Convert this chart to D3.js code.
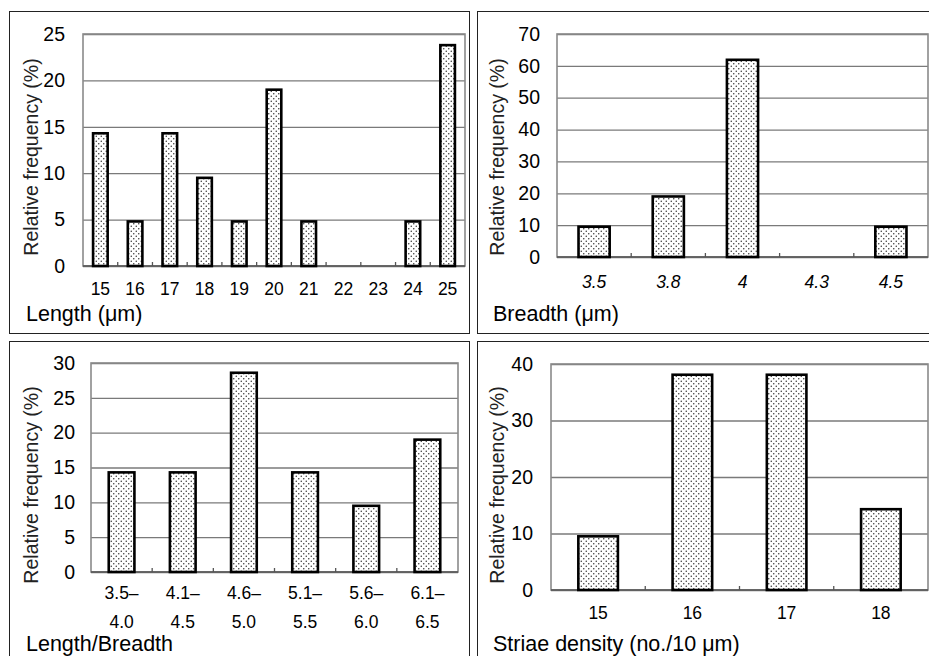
<!DOCTYPE html>
<html>
<head>
<meta charset="utf-8">
<script src="https://cdn.jsdelivr.net/npm/d3@7"></script>
<style>
  body { margin: 0; background: #fff; }
  svg { display: block; font-family: "Liberation Sans", Arial, sans-serif; }
  .grid line { stroke: #7a7a7a; stroke-width: 1.3; }
  .grid text { fill: #000; font-size: 19.5px; }
</style>
</head>
<body>
<svg id="chart" width="929" height="656"></svg>
<script>
// data (relative frequency, %)
var lengthCats = ["15","16","17","18","19","20","21","22","23","24","25"];
var lengthVals = [14.3, 4.8, 14.3, 9.5, 4.8, 19.0, 4.8, 0, 0, 4.8, 23.8];

var breadthCats = ["3.5","3.8","4","4.3","4.5"];
var breadthVals = [9.5, 19.0, 61.9, 0, 9.5];

var ratioCats = [["3.5–","4.0"],["4.1–","4.5"],["4.6–","5.0"],["5.1–","5.5"],["5.6–","6.0"],["6.1–","6.5"]];
var ratioVals = [14.3, 14.3, 28.6, 14.3, 9.5, 19.0];

var striaeCats = ["15","16","17","18"];
var striaeVals = [9.5, 38.1, 38.1, 14.3];

var lengthTicks = [0,5,10,15,20,25];
var breadthTicks = [0,10,20,30,40,50,60,70];
var ratioTicks = [0,5,10,15,20,25,30];
var striaeTicks = [0,10,20,30,40];

var svg = d3.select("#chart");

// dotted fill like the old spreadsheet pattern
var defs = svg.append("defs");
var pat = defs.append("pattern").attr("id", "dots")
  .attr("patternUnits", "userSpaceOnUse").attr("width", 5).attr("height", 5);
pat.append("rect").attr("width", 5).attr("height", 5).attr("fill", "#fff");
pat.append("circle").attr("cx", 1.25).attr("cy", 1.25).attr("r", 0.75).attr("fill", "#333");
pat.append("circle").attr("cx", 3.75).attr("cy", 3.75).attr("r", 0.75).attr("fill", "#333");

function panel(p) {
  var g = svg.append("g");

  // outer frame
  g.append("rect")
    .attr("x", p.box[0] + 0.5).attr("y", p.box[1] + 0.5)
    .attr("width", p.box[2] - p.box[0]).attr("height", p.box[3] - p.box[1])
    .attr("fill", "none").attr("stroke", "#222").attr("stroke-width", 1);

  var l = p.plot[0], t = p.plot[1], r = p.plot[2], b = p.plot[3];
  var y = d3.scaleLinear().domain([0, p.ymax]).range([b, t]);
  var cell = d3.scaleBand().domain(d3.range(p.cats.length)).range([l, r]);

  var grid = g.append("g").attr("class", "grid")
    .attr("transform", "translate(" + l + ",0)")
    .call(d3.axisLeft(y).tickValues(p.ticks).tickSize(-(r - l)).tickPadding(p.pad).tickFormat(d3.format("d")));
  grid.select(".domain").remove();

  // plot border
  g.append("rect")
    .attr("x", l).attr("y", t).attr("width", r - l).attr("height", b - t)
    .attr("fill", "none").attr("stroke", "#8a8a8a").attr("stroke-width", 1.6);

  // x axis line + inward ticks at cell boundaries
  g.append("line").attr("x1", l).attr("x2", r).attr("y1", b).attr("y2", b)
    .attr("stroke", "#555").attr("stroke-width", 1.6);
  g.selectAll(".xt").data(d3.range(1, p.cats.length)).enter().append("line")
    .attr("x1", function(i) { return l + i * cell.step(); })
    .attr("x2", function(i) { return l + i * cell.step(); })
    .attr("y1", b).attr("y2", b - 4)
    .attr("stroke", "#555").attr("stroke-width", 1.3);

  var bw = cell.bandwidth() * 0.42;
  g.selectAll(".bar").data(p.vals).enter().append("rect")
    .attr("x", function(d, i) { return cell(i) + (cell.bandwidth() - bw) / 2; })
    .attr("y", function(d) { return y(d); })
    .attr("width", bw)
    .attr("height", function(d) { return b - y(d); })
    .attr("fill", "url(#dots)")
    .attr("stroke", function(d) { return d > 0 ? "#000" : "none"; })
    .attr("stroke-width", 2.6);

  // category labels
  p.cats.forEach(function(c, i) {
    var lines = Array.isArray(c) ? c : [c];
    lines.forEach(function(s, k) {
      g.append("text")
        .attr("x", cell(i) + cell.bandwidth() / 2)
        .attr("y", p.xlab[k])
        .attr("dy", "0.35em")
        .attr("text-anchor", "middle")
        .attr("font-size", 17.5)
        .attr("font-style", p.italic ? "italic" : "normal")
        .attr("fill", "#000")
        .text(s);
    });
  });

  g.append("text")
    .attr("x", p.title[0]).attr("y", p.title[1]).attr("dy", "0.35em")
    .attr("font-size", 21.5).attr("fill", "#000")
    .text(p.name);

  g.append("text")
    .attr("transform", "translate(" + p.ytitle[0] + "," + p.ytitle[1] + ") rotate(-90)")
    .attr("dy", "0.35em").attr("text-anchor", "middle")
    .attr("font-size", 19.5).attr("fill", "#222")
    .text("Relative frequency (%)");
}

panel({ box: [9, 11, 469, 333], plot: [83, 34, 465, 266], pad: 18,
  cats: lengthCats, vals: lengthVals, ticks: lengthTicks, ymax: 25,
  xlab: [289], title: [26, 313], ytitle: [31, 157], name: "Length (μm)" });

panel({ box: [477, 11, 935, 333], plot: [557, 34, 928, 257], pad: 17,
  cats: breadthCats, vals: breadthVals, ticks: breadthTicks, ymax: 70, italic: true,
  xlab: [282], title: [493, 313], ytitle: [497, 157], name: "Breadth (μm)" });

panel({ box: [9, 341, 469, 660], plot: [91, 363, 458, 572], pad: 16,
  cats: ratioCats, vals: ratioVals, ticks: ratioTicks, ymax: 30,
  xlab: [593, 622], title: [26, 643], ytitle: [31, 485], name: "Length/Breadth" });

panel({ box: [477, 341, 935, 660], plot: [551, 364, 928, 590], pad: 18,
  cats: striaeCats, vals: striaeVals, ticks: striaeTicks, ymax: 40,
  xlab: [613], title: [493, 643], ytitle: [497, 485], name: "Striae density (no./10 μm)" });
</script>
</body>
</html>
